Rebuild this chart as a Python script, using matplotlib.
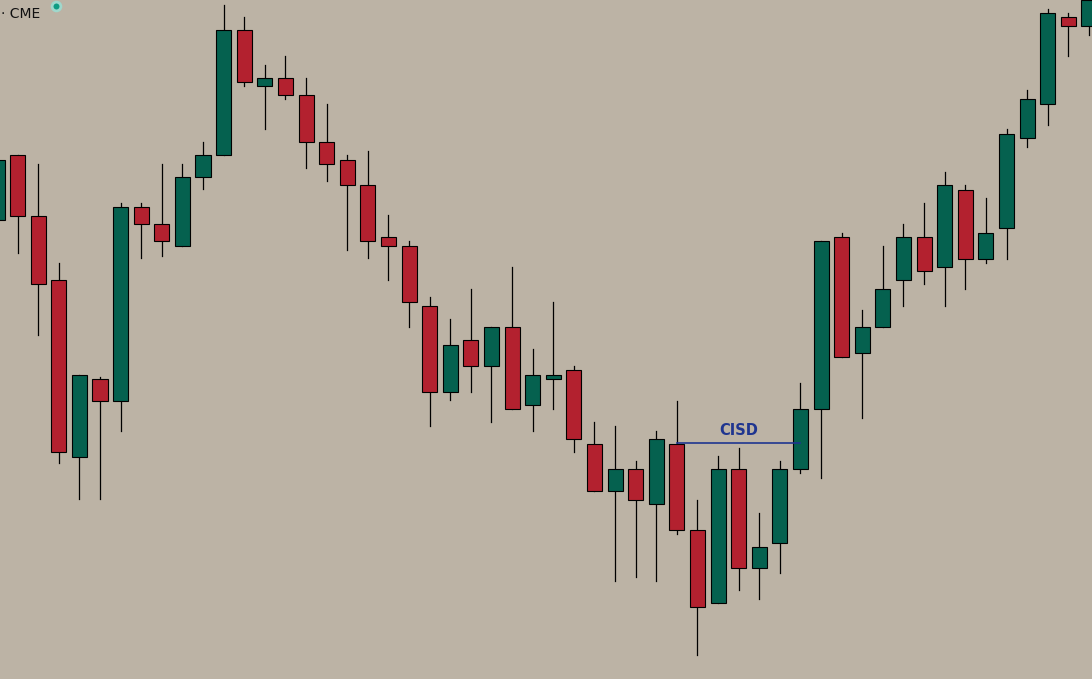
import matplotlib.pyplot as plt
from matplotlib.patches import Rectangle

# price values (pixel-height scale, higher = up)
H = 679
opens_px = [220, 155, 216, 280, 457, 379, 401, 207, 224, 246, 177, 155, 30, 86, 78, 95, 142, 160, 185, 237,
            246, 306, 392, 340, 366, 327, 405, 379, 370, 444, 491, 469, 504, 444, 530, 603, 469, 568, 543, 469,
            409, 237, 353, 327, 280, 237, 267, 190, 259, 228, 138, 104, 17, 26]
closes_px = [160, 216, 284, 452, 375, 401, 207, 224, 241, 177, 155, 30, 82, 78, 95, 142, 164, 185, 241, 246,
             302, 392, 345, 366, 327, 409, 375, 375, 439, 491, 469, 500, 439, 530, 607, 469, 568, 547, 469, 409,
             241, 357, 327, 289, 237, 271, 185, 259, 233, 134, 99, 13, 26, 0]
highs_px = [155, 155, 164, 263, 375, 377, 203, 203, 164, 164, 142, 5, 17, 65, 56, 78, 104, 155, 151, 215,
            241, 297, 319, 289, 327, 267, 349, 302, 366, 422, 426, 461, 431, 401, 500, 456, 448, 513, 461, 383,
            241, 233, 310, 246, 224, 203, 172, 185, 198, 129, 90, 9, 13, -5]
lows_px = [225, 253, 335, 463, 499, 499, 431, 258, 256, 246, 189, 155, 86, 129, 99, 168, 181, 250, 258, 280,
           327, 426, 400, 392, 422, 409, 431, 409, 452, 491, 581, 577, 581, 534, 655, 603, 590, 599, 573, 473,
           478, 357, 418, 327, 306, 284, 306, 289, 263, 259, 147, 125, 56, 35]

opens = [H - v for v in opens_px]
closes = [H - v for v in closes_px]
highs = [H - v for v in highs_px]
lows = [H - v for v in lows_px]

cisd_level = H - 443
cisd_start, cisd_end = 33, 39

bg = '#bcb3a5'
up_col = '#05614f'
down_col = '#b3212f'

fig = plt.figure(figsize=(10.92, 6.79), dpi=100)
ax = fig.add_axes([0, 0, 1, 1])
ax.set_facecolor(bg)
fig.patch.set_facecolor(bg)

w = 0.73
for i, (o, h, l, c) in enumerate(zip(opens, highs, lows, closes)):
    col = up_col if c >= o else down_col
    ax.plot([i, i], [l, h], color='black', lw=0.9, zorder=1)
    ax.add_patch(Rectangle((i - w / 2, min(o, c)), w, max(abs(c - o), 1.5),
                           facecolor=col, edgecolor='black', lw=0.8, zorder=2))

ax.plot([cisd_start, cisd_end], [cisd_level, cisd_level], color='#1f3590', lw=1.2, zorder=3)
ax.text((cisd_start + cisd_end) / 2, cisd_level + 5, 'CISD', color='#1f3590', fontsize=10.5,
        fontweight='bold', ha='center', va='bottom', zorder=4)

ax.text(0.001, 0.99, '· CME', transform=ax.transAxes, fontsize=10, va='top', ha='left', color='#111111')
ax.scatter([0.051], [0.991], s=40, color='#0f9c83', edgecolors='#9fd8cc', linewidths=2,
           transform=ax.transAxes, zorder=5)

ax.set_xlim(0.146, 53.15)
ax.set_ylim(0, H)
ax.axis('off')

fig.savefig('out.png', dpi=100, facecolor=bg)
